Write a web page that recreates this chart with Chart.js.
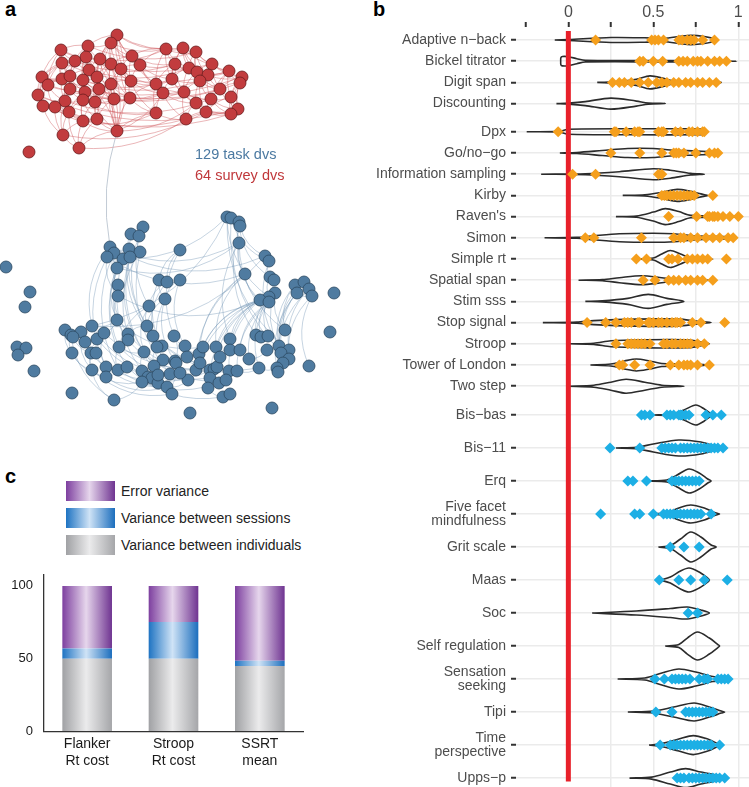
<!DOCTYPE html>
<html>
<head>
<meta charset="utf-8">
<script src="https://cdn.jsdelivr.net/npm/chart.js@4.4.1/dist/chart.umd.min.js"></script>
<style>
  body { margin: 0; background: #fff; font-family: "Liberation Sans", Arial, sans-serif; }
  #page { position: relative; width: 749px; height: 787px; overflow: hidden; }
  .box { position: absolute; }
  .panel { position: absolute; font-weight: bold; font-size: 20px; line-height: 20px; color: #000; }
  .note { position: absolute; font-size: 14.5px; line-height: 17px; white-space: nowrap; }
  #legend { position: absolute; left: 66px; top: 481px; }
  .item { display: flex; align-items: center; height: 20px; margin-bottom: 7px; font-size: 14px; color: #222; white-space: nowrap; }
  .swatch { width: 49px; height: 20px; margin-right: 6px; }
</style>
</head>
<body>
<div id="page">
  <div class="panel" style="left:5px;top:-1px">a</div>
  <div class="panel" style="left:373px;top:-1px">b</div>
  <div class="panel" style="left:5px;top:466px">c</div>

  <div class="box" style="left:0;top:0"><canvas id="netChart" width="345" height="430"></canvas></div>
  <div class="note" style="left:195px;top:146px;color:#4B79A1">129 task dvs</div>
  <div class="note" style="left:195px;top:167px;color:#C0383B">64 survey dvs</div>

  <div class="box" style="left:340px;top:0"><canvas id="taskChart" width="409" height="397"></canvas></div>
  <div class="box" style="left:340px;top:397px"><canvas id="surveyChart" width="409" height="390"></canvas></div>

  <div id="legend"></div>
  <div class="box" style="left:0;top:565px"><canvas id="barChart" width="330" height="222"></canvas></div>
</div>

<script>
Chart.defaults.font.family = '"Liberation Sans", Arial, sans-serif';

// ---------- panel a: network of dependent variables ----------
const redNodes = [
  [117,35],[88,46],[111,43],[61,50],[166,49],[183,48],[196,52],[86,57],[132,56],[100,59],
  [75,61],[62,63],[111,64],[140,65],[175,64],[212,64],[89,70],[121,69],[189,68],[197,72],
  [208,75],[229,71],[242,77],[240,83],[42,77],[62,79],[70,76],[83,80],[97,77],[131,81],
  [156,84],[172,79],[200,81],[48,85],[70,89],[85,92],[99,89],[111,84],[163,93],[184,92],
  [220,89],[38,95],[65,101],[83,100],[95,102],[114,99],[130,98],[211,99],[231,97],[43,106],
  [55,107],[69,112],[196,103],[206,112],[238,109],[231,114],[156,113],[186,119],[83,121],[97,119],
  [117,131],[63,135],[79,148],[29,152]
];
const blueNodes = [
  [227,217],[231,218],[239,222],[240,226],[239,243],[143,227],[131,234],[139,236],[110,247],[114,253],
  [129,249],[140,252],[107,257],[123,259],[130,257],[180,250],[6,267],[117,268],[265,256],[269,261],
  [245,274],[159,280],[167,282],[180,280],[270,277],[274,280],[295,285],[304,282],[309,289],[297,293],
  [312,296],[334,293],[30,292],[118,285],[118,296],[275,293],[269,297],[260,300],[269,302],[165,299],
  [149,306],[25,307],[117,320],[147,326],[92,326],[65,330],[71,335],[81,332],[73,337],[85,342],
  [97,339],[104,333],[128,334],[128,340],[153,336],[174,336],[230,339],[256,335],[261,337],[268,336],
  [285,330],[330,332],[17,347],[26,348],[18,355],[119,347],[162,346],[185,346],[216,347],[230,350],
  [240,350],[279,346],[289,350],[281,353],[289,359],[283,363],[72,353],[91,353],[96,353],[144,352],
  [199,354],[163,360],[175,361],[249,359],[34,371],[92,370],[106,367],[106,377],[118,370],[127,367],
  [142,371],[154,366],[148,377],[152,378],[170,374],[196,370],[210,370],[214,369],[229,371],[237,371],
  [259,368],[277,368],[278,372],[309,366],[142,382],[158,383],[167,387],[188,380],[210,378],[219,383],
  [226,380],[208,388],[172,394],[223,397],[230,394],[72,393],[114,400],[190,413],[272,408],[176,363],
  [187,357],[200,363],[217,367],[158,375],[203,347],[220,357],[180,373],[267,350],[157,347]
];
const redEdges = `0-2 0-8 0-12 0-17 0-9 0-1 0-4 0-13 0-29 0-36 1-2 1-7 1-9 1-3 1-16 1-10 1-28 1-27
2-8 2-9 2-12 2-17 2-13 2-28 2-4 3-7 3-11 3-10 3-24 3-26 3-25 3-33 4-5 4-13 4-14 4-8 4-18 4-30 4-31 4-6
5-6 5-14 5-18 5-19 5-15 5-31 5-20 6-15 6-18 6-19 6-20 6-21 6-32 7-9 7-10 7-16 7-26 7-27 7-28
8-12 8-13 8-17 8-29 8-30 8-14 9-12 9-16 9-17 9-28 9-36 9-37 10-11 10-16 10-25 10-26 10-34 10-24
11-24 11-25 11-33 11-26 11-41 12-17 12-28 12-29 12-36 12-37 12-45 12-46 13-17 13-29 13-30 13-31 13-38 13-14
14-18 14-31 14-30 14-39 14-19 14-20 15-19 15-20 15-21 15-22 15-32 15-40 16-27 16-28 16-35 16-36 16-26
17-29 17-37 17-46 17-45 17-30 18-19 18-31 18-32 18-39 18-20 19-20 19-32 19-39 19-40 19-21
20-21 20-32 20-40 20-47 20-22 21-22 21-23 21-40 21-48 21-47 22-23 22-48 22-54 22-40 23-40 23-48 23-54 23-55
24-33 24-41 24-25 24-49 24-26 25-26 25-33 25-34 25-41 25-42 26-27 26-34 26-35 26-42 27-28 27-35 27-36 27-43 27-44
28-36 28-37 28-44 28-45 29-37 29-46 29-30 29-38 29-56 30-31 30-38 30-56 30-39 30-46 31-39 31-38 31-52 31-32
32-39 32-40 32-47 32-52 32-53 33-41 33-49 33-34 33-50 33-42 34-35 34-42 34-43 34-51 34-50
35-36 35-43 35-44 35-51 35-58 36-37 36-44 36-45 36-59 37-45 37-46 37-59 37-60 38-39 38-56 38-57 38-52
39-52 39-57 39-47 39-53 40-47 40-48 40-53 40-54 41-49 41-50 41-42 42-50 42-51 42-43 42-61
43-44 43-51 43-58 43-59 44-45 44-59 44-58 44-60 45-46 45-59 45-60 46-56 46-60 46-38
47-48 47-52 47-53 47-54 47-55 48-54 48-55 48-53 49-50 49-61 49-42 50-51 50-61 50-58
51-58 51-61 51-62 51-59 52-53 52-57 52-55 53-55 53-57 53-54 54-55 55-57 56-57 56-60
58-59 58-61 58-62 58-60 59-60 59-62 60-62 61-62
3-15 1-6 0-5 11-21 24-22 33-23 41-54 49-55 61-53 62-57 60-38 60-52 58-56 51-57 42-47 25-40 26-32
16-18 10-14 7-4 27-31 34-39 35-38 43-56 44-46 60-0 60-9 60-12 60-16 60-27 60-7`;
const blueEdges = `5-6 5-7 6-7 6-10 7-11 8-9 8-12 9-13 10-14 11-14 12-13 13-17 14-17 9-17 8-10
5-40 7-43 11-52 13-65 14-79 17-42 12-34 9-33 10-54 6-66 8-44 17-52 33-42 34-42 12-86 9-88 13-90 14-91 11-94 17-89
15-21 15-22 21-22 22-23 21-39 22-40 23-39 15-55 21-66 22-54 23-67 39-81 39-82 40-43 40-79 40-65 39-43
0-1 1-2 2-3 3-4 0-3 4-20 3-18 4-37 0-36 1-19 2-24 4-56 3-57
18-19 19-24 24-25 20-37 24-36 25-35 35-36 36-37 36-38 37-38 26-27 27-28 28-29 29-30 26-29 28-30 27-30
37-56 37-68 37-69 37-80 37-95 37-96 37-97 37-98 37-124 38-70 38-83 38-99 38-100 36-57 36-58 36-59 35-71 35-60 20-68 20-80 20-95
26-60 27-71 28-72 29-73 30-74 26-71 29-101 28-102 27-75 30-103 62-63 63-64
45-46 46-48 47-49 48-49 49-50 50-51 44-47 44-51 51-42 45-76 46-76 48-77 49-78 50-85 51-86 47-85 76-85 77-85 78-86 44-42
42-52 52-53 53-65 65-79 79-90 90-92 92-93 93-104 104-105 105-106 106-112 86-87 87-88 88-89 89-90 86-88 90-91 91-94
94-119 119-120 120-121 121-95 95-96 96-97 97-98 98-99 99-100 100-101 101-102 108-109 109-110 110-111 111-113 113-114
108-96 107-95 107-126 126-112 123-105 123-92 128-66 66-81 81-82 82-55 55-67 67-80 80-124 124-68 68-69 69-70 70-83
83-127 127-71 71-72 72-73 73-74 74-75 122-125 125-98 122-97 54-43 54-66 43-52 65-88 79-91 81-119 82-120 128-91 94-126 106-107
53-95 52-96 43-98 54-100 65-108 79-110 86-97 87-106 88-109 89-113 44-94 50-107 51-122 42-124 85-104 85-112 77-106 76-87
46-116 85-116 116-104 8-4 12-0 44-18 0-72 1-74 4-60 19-71 34-37 12-20 8-18 17-4 44-0`;
const crossEdges = [[60, 8]]; // red node -> blue node

function parseEdges(s) {
    return s.trim().split(/\s+/).map(p => p.split('-').map(Number));
}

const edgePlugin = {
    id: 'edges',
    beforeDatasetsDraw(chart) {
        const ctx = chart.ctx;
        const xs = chart.scales.x;
        const ys = chart.scales.y;
        const curve = (a, b, bend, color) => {
            const x1 = xs.getPixelForValue(a[0]), y1 = ys.getPixelForValue(a[1]);
            const x2 = xs.getPixelForValue(b[0]), y2 = ys.getPixelForValue(b[1]);
            const cx = (x1 + x2) / 2 - (y2 - y1) * bend;
            const cy = (y1 + y2) / 2 + (x2 - x1) * bend;
            ctx.strokeStyle = color;
            ctx.beginPath();
            ctx.moveTo(x1, y1);
            ctx.quadraticCurveTo(cx, cy, x2, y2);
            ctx.stroke();
        };
        ctx.save();
        ctx.lineWidth = 0.9;
        parseEdges(redEdges).forEach(([i, j]) => curve(redNodes[i], redNodes[j], 0.18, 'rgba(205, 85, 88, 0.48)'));
        parseEdges(blueEdges).forEach(([i, j]) => curve(blueNodes[i], blueNodes[j], 0.25, 'rgba(115, 148, 180, 0.45)'));
        crossEdges.forEach(([i, j]) => curve(redNodes[i], blueNodes[j], 0.12, 'rgba(170, 182, 196, 0.8)'));
        ctx.restore();
    }
};

new Chart(document.getElementById('netChart').getContext('2d'), {
    type: 'scatter',
    data: {
        datasets: [
            {
                data: redNodes.map(([x, y]) => ({ x, y })),
                backgroundColor: '#C23C3E',
                borderColor: '#6B1C1D',
                borderWidth: 0.8,
                pointRadius: 6
            },
            {
                data: blueNodes.map(([x, y]) => ({ x, y })),
                backgroundColor: '#4F7BA0',
                borderColor: '#2C4A63',
                borderWidth: 0.8,
                pointRadius: 6
            }
        ]
    },
    options: {
        responsive: false,
        animation: false,
        events: [],
        layout: { padding: 0, autoPadding: false },
        plugins: { legend: { display: false }, tooltip: { enabled: false } },
        scales: {
            x: { display: false, min: 0, max: 345 },
            y: { display: false, min: 0, max: 430, reverse: true }
        }
    },
    plugins: [edgePlugin]
});

// ---------- panel b: reliability violins ----------
const taskLabels = ['Adaptive n\u2212back', 'Bickel titrator', 'Digit span', 'Discounting', 'Dpx', 'Go/no\u2212go',
    'Information sampling', 'Kirby', "Raven's", 'Simon', 'Simple rt', 'Spatial span', 'Stim sss',
    'Stop signal', 'Stroop', 'Tower of London', 'Two step'];
const surveyLabels = ['Bis\u2212bas', 'Bis\u221211', 'Erq', ['Five facet', 'mindfulness'], 'Grit scale', 'Maas', 'Soc',
    'Self regulation', ['Sensation', 'seeking'], 'Tipi', ['Time', 'perspective'], 'Upps\u2212p'];

const xTicks = [-0.25, 0, 0.25, 0.5, 0.75, 1];

// diamonds: individual dependent-variable reliabilities
const taskPoints = [
    [0.16, 0.49, 0.51, 0.53, 0.56, 0.65, 0.67, 0.70, 0.72, 0.74, 0.79, 0.86],
    [0.42, 0.44, 0.50, 0.555, 0.65, 0.675, 0.70, 0.735, 0.76, 0.78, 0.82, 0.86, 0.89, 0.93],
    [0.26, 0.30, 0.33, 0.37, 0.42, 0.47, 0.52, 0.55, 0.58, 0.62, 0.65, 0.69, 0.72, 0.76, 0.79, 0.83, 0.87],
    [],
    [-0.06, 0.27, 0.28, 0.34, 0.39, 0.41, 0.42, 0.53, 0.55, 0.56, 0.63, 0.66, 0.71, 0.73, 0.76, 0.79, 0.80],
    [0.25, 0.42, 0.55, 0.62, 0.635, 0.65, 0.68, 0.75, 0.83, 0.86, 0.88],
    [0.025, 0.16, 0.53, 0.55],
    [0.55, 0.565, 0.58, 0.60, 0.62, 0.64, 0.66, 0.68, 0.70, 0.72, 0.74, 0.85],
    [0.59, 0.755, 0.82, 0.83, 0.85, 0.86, 0.88, 0.91, 0.95, 1.0],
    [0.10, 0.15, 0.43, 0.62, 0.66, 0.68, 0.72, 0.76, 0.81, 0.85, 0.89, 0.94, 0.97],
    [0.40, 0.46, 0.59, 0.61, 0.645, 0.70, 0.73, 0.76, 0.79, 0.82, 0.93],
    [0.44, 0.51, 0.59, 0.62, 0.65, 0.69, 0.72, 0.76, 0.79, 0.85],
    [],
    [0.11, 0.22, 0.28, 0.33, 0.35, 0.37, 0.41, 0.42, 0.47, 0.48, 0.50, 0.53, 0.55, 0.58, 0.61, 0.63, 0.64, 0.66, 0.73, 0.78, 0.92],
    [0.28, 0.35, 0.37, 0.39, 0.41, 0.43, 0.45, 0.48, 0.56, 0.58, 0.61, 0.63, 0.66, 0.68, 0.70, 0.72, 0.76, 0.80],
    [0.30, 0.32, 0.39, 0.48, 0.60, 0.65, 0.68, 0.70, 0.72, 0.76, 0.83],
    []
];
const surveyPoints = [
    [0.43, 0.45, 0.48, 0.58, 0.60, 0.62, 0.65, 0.66, 0.67, 0.69, 0.71, 0.81, 0.85, 0.90],
    [0.245, 0.42, 0.55, 0.57, 0.59, 0.61, 0.63, 0.66, 0.68, 0.70, 0.72, 0.74, 0.76, 0.78, 0.80, 0.82, 0.84, 0.86, 0.88, 0.91],
    [0.35, 0.38, 0.46, 0.61, 0.63, 0.65, 0.67, 0.69, 0.71, 0.73, 0.75, 0.77],
    [0.19, 0.39, 0.42, 0.50, 0.56, 0.58, 0.60, 0.62, 0.64, 0.66, 0.68, 0.70, 0.72, 0.74, 0.76, 0.78, 0.84],
    [0.60, 0.68, 0.77],
    [0.535, 0.65, 0.72, 0.80, 0.935],
    [0.705, 0.76],
    [],
    [0.51, 0.565, 0.61, 0.63, 0.65, 0.67, 0.69, 0.715, 0.77, 0.80, 0.82, 0.88, 0.90, 0.92, 0.94],
    [0.515, 0.61, 0.69, 0.71, 0.73, 0.75, 0.77, 0.79, 0.81, 0.83, 0.85],
    [0.54, 0.60, 0.62, 0.64, 0.66, 0.68, 0.70, 0.72, 0.74, 0.76, 0.78, 0.80, 0.82, 0.84, 0.89],
    [0.64, 0.66, 0.68, 0.71, 0.73, 0.75, 0.77, 0.79, 0.81, 0.83, 0.85, 0.87, 0.89, 0.92]
];

// violin outlines: [reliability, density half-width] knots
const taskDensity = [
    [[-0.08, 0], [0.0, 0.5], [0.25, 2.5], [0.45, 2.2], [0.56, 1.5], [0.7, 4.5], [0.8, 3.5], [0.87, 0]],
    [[-0.045, 0], [-0.044, 3.5], [-0.035, 4.7], [0.0, 4.5], [0.05, 2.5], [0.1, 0.8], [0.6, 0.7], [0.99, 0]],
    [[0.17, 0], [0.3, 0.8], [0.4, 3], [0.48, 6.5], [0.56, 4], [0.62, 1.2], [0.87, 0.6], [0.9, 0]],
    [[-0.07, 0], [0.0, 0.5], [0.1, 2], [0.25, 5.5], [0.4, 2.5], [0.47, 0.6], [0.57, 0]],
    [[-0.245, 0], [-0.05, 0.4], [0.0, 2.5], [0.4, 3], [0.75, 3], [0.8, 2.5], [0.81, 0]],
    [[-0.05, 0], [0.05, 0.5], [0.2, 2.5], [0.35, 4.5], [0.5, 4.5], [0.6, 3], [0.75, 2], [0.88, 1], [0.9, 0]],
    [[-0.16, 0], [0.1, 0.5], [0.3, 2.5], [0.5, 5.5], [0.6, 4], [0.72, 0.8], [0.8, 0]],
    [[0.32, 0], [0.45, 0.6], [0.55, 3], [0.64, 6], [0.72, 4], [0.78, 1.5], [0.82, 0]],
    [[0.28, 0], [0.4, 0.6], [0.5, 4.5], [0.57, 8], [0.65, 5], [0.72, 1.2], [1.0, 0.5], [1.01, 0]],
    [[-0.14, 0], [0.05, 0.4], [0.15, 2], [0.3, 4], [0.5, 4.5], [0.62, 4], [0.75, 2], [0.95, 1], [0.98, 0]],
    [[0.39, 0], [0.5, 1], [0.55, 5], [0.6, 8.5], [0.66, 5], [0.72, 1.2], [0.85, 0]],
    [[0.06, 0], [0.2, 0.6], [0.3, 2.5], [0.43, 4.5], [0.55, 2.5], [0.62, 1], [0.85, 0]],
    [[0.1, 0], [0.2, 0.5], [0.35, 3], [0.47, 7], [0.58, 3], [0.68, 0]],
    [[-0.15, 0], [0.05, 0.5], [0.15, 2], [0.4, 3.5], [0.65, 3.5], [0.75, 1.5], [0.84, 0]],
    [[0.0, 0], [0.15, 0.6], [0.25, 3], [0.45, 4], [0.7, 4], [0.78, 2], [0.83, 0]],
    [[0.13, 0], [0.25, 1], [0.33, 4], [0.4, 6], [0.48, 4], [0.55, 1.5], [0.7, 1.2], [0.82, 0]],
    [[0.0, 0], [0.15, 1], [0.25, 4], [0.34, 7], [0.45, 4], [0.55, 1], [0.68, 0]]
];
const surveyDensity = [
    [[0.5, 0], [0.6, 0.8], [0.68, 5], [0.75, 10], [0.8, 6], [0.84, 1], [0.86, 0]],
    [[0.28, 0], [0.4, 0.7], [0.5, 4], [0.65, 8], [0.78, 6], [0.86, 2], [0.89, 0]],
    [[0.46, 0], [0.58, 1], [0.64, 6], [0.71, 12], [0.77, 8], [0.82, 2], [0.84, 0]],
    [[0.48, 0], [0.58, 1.5], [0.65, 6], [0.72, 9], [0.8, 6], [0.86, 1.5], [0.89, 0]],
    [[0.53, 0], [0.6, 1.5], [0.66, 8], [0.72, 15], [0.78, 10], [0.84, 2], [0.87, 0]],
    [[0.54, 0], [0.6, 3], [0.66, 9], [0.71, 12], [0.77, 8], [0.82, 2], [0.83, 0]],
    [[0.14, 0], [0.4, 2], [0.6, 4.5], [0.7, 6], [0.78, 3], [0.83, 0]],
    [[0.57, 0], [0.65, 1.5], [0.7, 8], [0.76, 14], [0.83, 8], [0.88, 1.5], [0.89, 0]],
    [[0.29, 0], [0.45, 1], [0.55, 6], [0.65, 10], [0.75, 7], [0.85, 2.5], [0.95, 0]],
    [[0.35, 0], [0.5, 1], [0.62, 5], [0.74, 9], [0.83, 5], [0.9, 1], [0.92, 0]],
    [[0.475, 0], [0.55, 1.5], [0.65, 6], [0.735, 9.5], [0.82, 6], [0.88, 1.5], [0.91, 0]],
    [[0.36, 0], [0.49, 1], [0.6, 6], [0.69, 9.5], [0.78, 6], [0.9, 2], [0.94, 0]]
];

// task rows have a small extra gap after Discounting
const taskRows = taskLabels.map((_, i) => i + (i >= 4 ? 0.33 : 0));
const surveyRows = surveyLabels.map((_, i) => i);

function violinOutline(profile, row, k) {
    const top = profile.map(([v, w]) => ({ x: v, y: row - w * k }));
    const bottom = profile.slice(0, -1).reverse().map(([v, w]) => ({ x: v, y: row + w * k }));
    return top.concat(bottom);
}

function makeViolinChart(id, c) {
    const datasets = [];
    const pts = [];
    c.points.forEach((vals, i) => vals.forEach(v => pts.push({ x: v, y: c.rows[i] })));
    datasets.push({ data: pts, pointStyle: 'rectRot', pointRadius: 5.5, backgroundColor: c.color, borderWidth: 0, order: 0 });
    datasets.push({
        data: [{ x: 0, y: c.redFrom }, { x: 0, y: c.redTo }],
        showLine: true, borderColor: '#E8202A', borderWidth: 5, pointRadius: 0, borderCapStyle: 'butt', order: 1
    });
    c.density.forEach((profile, i) => {
        datasets.push({
            data: violinOutline(profile, c.rows[i], c.k),
            showLine: true, borderColor: '#2B2B2B', borderWidth: 1.6, pointRadius: 0, tension: 0.3, fill: false, order: 2
        });
    });

    return new Chart(document.getElementById(id).getContext('2d'), {
        type: 'scatter',
        data: { datasets },
        options: {
            responsive: false,
            animation: false,
            events: [],
            layout: { padding: 0, autoPadding: false },
            plugins: { legend: { display: false }, tooltip: { enabled: false } },
            scales: {
                x: {
                    type: 'linear',
                    position: c.showAxis ? 'top' : 'bottom',
                    min: -0.308,
                    max: 1.063,
                    afterBuildTicks: s => { s.ticks = xTicks.map(v => ({ value: v })); },
                    ticks: {
                        display: c.showAxis,
                        autoSkip: false,
                        maxRotation: 0,
                        padding: 0,
                        color: '#4D4D4D',
                        font: { size: 16 },
                        callback: v => (v === 0 || v === 0.5 || v === 1) ? String(v) : ''
                    },
                    grid: {
                        color: ctx => (ctx.tick && ctx.tick.value > 0) ? '#EBEBEB' : 'rgba(0,0,0,0)',
                        lineWidth: 1.5,
                        drawTicks: c.showAxis,
                        tickColor: '#333',
                        tickWidth: 2,
                        tickLength: 5
                    },
                    border: { display: false },
                    afterFit: s => { s.height = c.showAxis ? 27 : 0; s.paddingLeft = 0; s.paddingRight = 0; }
                },
                y: {
                    type: 'linear',
                    reverse: true,
                    min: c.yMin,
                    max: c.yMax,
                    afterBuildTicks: s => { s.ticks = c.rows.map(v => ({ value: v })); },
                    ticks: {
                        autoSkip: false,
                        padding: 5,
                        color: '#4D4D4D',
                        font: { size: 14, lineHeight: 1.05 },
                        callback: (v, i) => c.labels[i]
                    },
                    grid: { color: '#EBEBEB', lineWidth: 1.5, tickColor: '#333', tickWidth: 2, tickLength: 5 },
                    border: { display: false },
                    afterFit: s => { s.width = 176; s.paddingTop = 0; s.paddingBottom = 0; }
                }
            }
        }
    });
}

makeViolinChart('taskChart', {
    labels: taskLabels, rows: taskRows, points: taskPoints, density: taskDensity,
    color: '#F59F1C', k: 1 / 21.2, yMin: -0.613, yMax: 16.84, redFrom: -0.42, redTo: 16.84, showAxis: true
});
makeViolinChart('surveyChart', {
    labels: surveyLabels, rows: surveyRows, points: surveyPoints, density: surveyDensity,
    color: '#1DAFE5', k: 1 / 33, yMin: -0.545, yMax: 11.27, redFrom: -0.545, redTo: 11.1, showAxis: false
});

// ---------- panel c: variance decomposition ----------
const barLabels = [['Flanker', 'Rt cost'], ['Stroop', 'Rt cost'], ['SSRT', 'mean']];
const seriesNames = ['Variance between individuals', 'Variance between sessions', 'Error variance'];
const individuals = [50, 50, 45];
const sessions = [7, 25.3, 3.6];
const errorVar = [43, 24.7, 51.4];

const gradStops = [
    ['#A0A1A4', '#EBEBEC', '#A5A6A9'],
    ['#1E73C2', '#CFE3F6', '#1C6EBD'],
    ['#7D3F9F', '#E6D6EC', '#6F3491']
];
const BAR_PCT = 0.575;

function barGradient(stops) {
    return (c) => {
        const xs = c.chart.scales.x;
        if (!xs || c.dataIndex === undefined) return stops[0];
        const cx = xs.getPixelForValue(c.dataIndex);
        const half = xs.width / barLabels.length * BAR_PCT / 2;
        if (!isFinite(cx) || !isFinite(half) || half <= 0) return stops[0];
        const g = c.chart.ctx.createLinearGradient(cx - half, 0, cx + half, 0);
        g.addColorStop(0, stops[0]);
        g.addColorStop(0.48, stops[1]);
        g.addColorStop(1, stops[2]);
        return g;
    };
}

// legend, top row = top segment
const legend = document.getElementById('legend');
[2, 1, 0].forEach(i => {
    const row = document.createElement('div');
    row.className = 'item';
    const sw = document.createElement('div');
    sw.className = 'swatch';
    sw.style.background = `linear-gradient(to right, ${gradStops[i][0]}, ${gradStops[i][1]} 48%, ${gradStops[i][2]})`;
    row.appendChild(sw);
    row.appendChild(document.createTextNode(seriesNames[i]));
    legend.appendChild(row);
});

const barChart = new Chart(document.getElementById('barChart').getContext('2d'), {
    type: 'bar',
    data: {
        labels: barLabels,
        datasets: [individuals, sessions, errorVar].map((d, i) => ({
            label: seriesNames[i],
            data: d,
            backgroundColor: barGradient(gradStops[i]),
            borderWidth: 0,
            categoryPercentage: 1,
            barPercentage: BAR_PCT
        }))
    },
    options: {
        responsive: false,
        animation: false,
        events: [],
        layout: { padding: { top: 10, right: 27, left: 0, bottom: 0 } },
        plugins: { legend: { display: false }, tooltip: { enabled: false } },
        scales: {
            x: {
                stacked: true,
                grid: { drawOnChartArea: false, drawTicks: false },
                border: { color: '#333', width: 1.3 },
                ticks: { color: '#1A1A1A', font: { size: 14 }, padding: 4 },
                afterFit: s => { s.height = 55.5; s.paddingLeft = 0; s.paddingRight = 0; }
            },
            y: {
                stacked: true,
                min: 0,
                max: 107.5,
                afterBuildTicks: s => { s.ticks = [0, 50, 100].map(v => ({ value: v })); },
                grid: { drawOnChartArea: false, drawTicks: false },
                border: { color: '#333', width: 1.3 },
                ticks: { color: '#1A1A1A', font: { size: 13 }, padding: 11 },
                afterFit: s => { s.width = 44; s.paddingTop = 0; s.paddingBottom = 0; }
            }
        }
    }
});
barChart.update();
</script>
</body>
</html>
